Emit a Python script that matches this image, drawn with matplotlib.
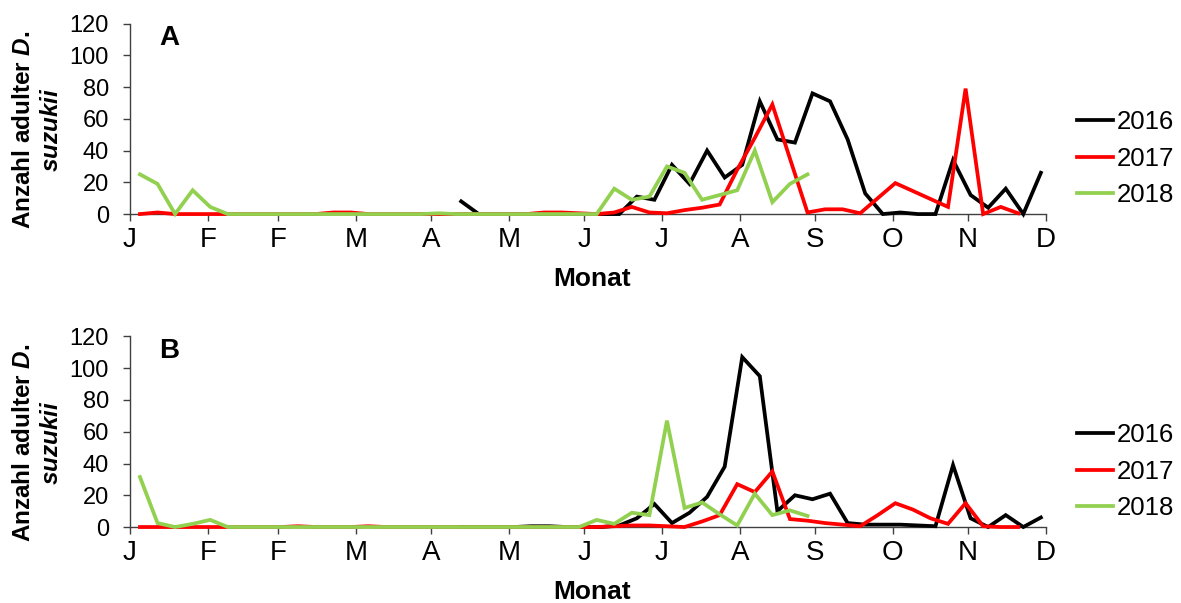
import numpy as np
import matplotlib.pyplot as plt

plt.rcParams['font.family'] = ['Liberation Sans', 'DejaVu Sans']
plt.rcParams['mathtext.fontset'] = 'custom'
plt.rcParams['mathtext.it'] = 'Liberation Sans:italic:bold'
plt.rcParams['mathtext.rm'] = 'Liberation Sans:bold'

# month axis (day of year) and the labels as they appear on the chart
month_days = [0, 31, 59, 90, 120, 151, 181, 212, 243, 273, 304, 334, 365]
month_labels = ["J", "F", "F", "M", "A", "M", "J", "J", "A", "S", "O", "N", "D"]

years = ["2016", "2017", "2018"]
colors = ["black", "#ff0000", "#92d050"]

# first weekly sampling day of each year
start_day = {"2016": 132, "2017": 4, "2018": 4}

# panel A, weekly counts
a_2016 = [8, 0, 0, 0, 0, 0, 0, 0, 0, 0, 11, 9, 31, 19, 40, 23, 31, 71, 47, 45,
          76, 71, 47, 13, 0, 1, 0, 0, 34, 12, 4, 16, 0, 26]
a_2017 = [0, 1, 0, 0, 0, 0, 0, 0, 0, 0, 0, 1, 1, 0, 0, 0, 0, 0, 0, 0,
          0, 0, 0, 1, 1, 0.5, 0, 1, 4.5, 1, 0.5, 2.5, 4, 6, 28, 48, 69, 35, 1, 3,
          3, 0.5, 10, 19.5, 14.5, 9.5, 4.5, 79, 0, 4.5, 0.5]
a_2018 = [25, 19, 0, 15, 4.5, 0, 0, 0, 0, 0, 0, 0, 0, 0, 0, 0, 0, 0.5, 0, 0,
          0, 0, 0, 0, 0, 0, 0, 16, 9, 11, 30, 26, 9, 12, 15, 40, 7.5, 19, 25]

# panel B, weekly counts
b_2016 = [0, 0, 0, 0, 0.5, 0.5, 0, 0, 0, 1, 5.5, 14.5, 2.5, 9, 19, 38, 107, 95, 10, 20,
          17.5, 21, 2.5, 1.5, 1.5, 1.5, 1, 0.5, 39, 5.5, 0, 7.5, 0, 6]
b_2017 = [0, 0, 0, 0, 0, 0, 0, 0, 0, 0.5, 0, 0, 0, 0.5, 0, 0, 0, 0, 0, 0,
          0, 0, 0, 0, 0, 0, 0, 0.5, 1, 1, 0.5, 0, 3.5, 7.5, 27, 22, 35, 5, 4, 2.5,
          1.5, 0.5, 7.5, 15, 11, 5.5, 2, 15, 0.5, 0, 0]
b_2018 = [31.5, 2.5, 0, 2, 4.5, 0, 0, 0, 0, 0, 0, 0, 0, 0, 0, 0, 0, 0, 0, 0,
          0, 0, 0, 0, 0, 0, 4.5, 2, 9, 7.5, 67, 12, 15.5, 8, 1, 21, 7.5, 10.5, 7]

panels = [
    ("A", [a_2016, a_2017, a_2018], 0.645),
    ("B", [b_2016, b_2017, b_2018], 0.126),
]

fig = plt.figure(figsize=(11.81, 6.03), dpi=100)

for letter, data, bottom in panels:
    ax = fig.add_axes([0.110, bottom, 0.7756, 0.316])
    for year, vals, col in zip(years, data, colors):
        days = start_day[year] + 7 * np.arange(len(vals))
        ax.plot(days, vals, color=col, lw=2.7, label=year, clip_on=False,
                zorder=3, solid_joinstyle='miter')

    ax.set_xlim(0, 365)
    ax.set_ylim(0, 120)
    ax.set_yticks(range(0, 121, 20))
    ax.set_xticks(month_days)
    ax.set_xticklabels(month_labels)
    for s in ["top", "right"]:
        ax.spines[s].set_visible(False)
    for s in ["left", "bottom"]:
        ax.spines[s].set_color("#404040")
        ax.spines[s].set_linewidth(1.0)
    ax.tick_params(axis='y', labelsize=17, length=5, width=1.0, color="#404040", pad=10)
    ax.tick_params(axis='x', labelsize=20, length=5, width=1.0, color="#404040", pad=4)
    ax.set_xlabel("Monat", fontsize=19, fontweight='bold')
    ax.xaxis.set_label_coords(0.504, -0.34)
    ax.xaxis.label.set_verticalalignment('center')

    ax.text(0.0426, 0.926, letter, transform=ax.transAxes, fontsize=20,
            fontweight='bold', ha='center', va='center')

    ax_top = bottom + 0.316
    fig.text(0.032, ax_top - 0.176, "Anzahl adulter $\\mathit{D.}$\n$\\mathit{suzukii}$",
             rotation=90, ha='center', va='center', multialignment='center',
             fontsize=17.5, fontweight='bold', linespacing=1.3)

    ax.legend(loc='center left', bbox_to_anchor=(0.912, ax_top - 0.224),
              bbox_transform=fig.transFigure, frameon=False, fontsize=18.5,
              handlelength=1.4, handletextpad=0.15, labelspacing=0.5,
              borderpad=0, borderaxespad=0)

fig.savefig("out.png", dpi=100)
